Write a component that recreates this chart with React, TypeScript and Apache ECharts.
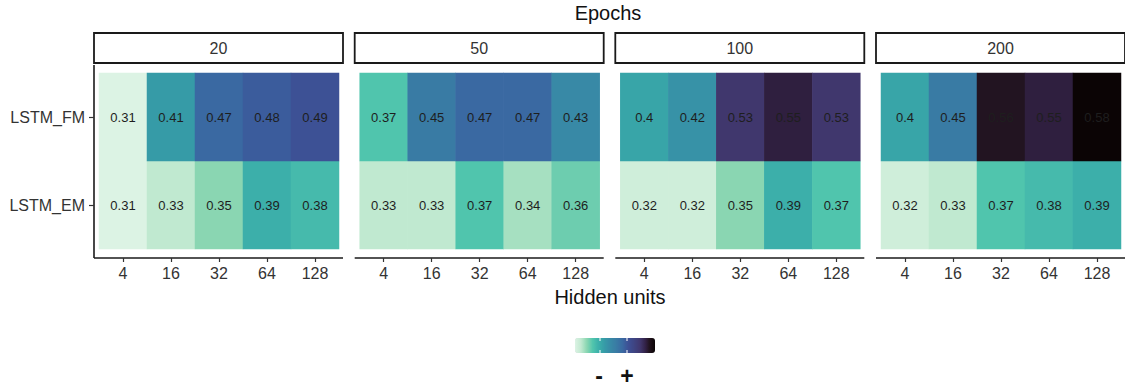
import React, { useEffect, useRef } from "react";
import * as echarts from "echarts";

const hiddenUnits = ["4", "16", "32", "64", "128"];
const epochs = ["20", "50", "100", "200"];
const models = ["LSTM_EM", "LSTM_FM"];

const fm20 = [0.31, 0.41, 0.47, 0.48, 0.49];
const em20 = [0.31, 0.33, 0.35, 0.39, 0.38];
const fm50 = [0.37, 0.45, 0.47, 0.47, 0.43];
const em50 = [0.33, 0.33, 0.37, 0.34, 0.36];
const fm100 = [0.4, 0.42, 0.53, 0.55, 0.53];
const em100 = [0.32, 0.32, 0.35, 0.39, 0.37];
const fm200 = [0.4, 0.45, 0.56, 0.55, 0.58];
const em200 = [0.32, 0.33, 0.37, 0.38, 0.39];

const fmByEpoch = [fm20, fm50, fm100, fm200];
const emByEpoch = [em20, em50, em100, em200];

const legendLabels = ["-", "+"];

const scaleMin = 0.31;
const scaleMax = 0.58;
const stopValues = [0.31, 0.33, 0.35, 0.37, 0.39, 0.41, 0.43, 0.45, 0.47, 0.49, 0.53, 0.55, 0.56, 0.58];
const stopColors = [
  "#dcf3e4", "#c2e9d1", "#8ad6b1", "#50c5ad", "#3bafaa", "#369ba7", "#3889a6", "#397ba4",
  "#3a69a2", "#3d5095", "#40376e", "#301f40", "#22141f", "#0b0405",
];

const hexToRgb = (h: string) => [1, 3, 5].map((i) => parseInt(h.slice(i, i + 2), 16));
const rgbToHex = (c: number[]) =>
  "#" + c.map((v) => Math.round(v).toString(16).padStart(2, "0")).join("");

function buildRamp(n: number): string[] {
  const out: string[] = [];
  for (let k = 0; k < n; k++) {
    const v = scaleMin + ((scaleMax - scaleMin) * k) / (n - 1);
    let j = 0;
    while (j < stopValues.length - 2 && v > stopValues[j + 1]) j++;
    const t = Math.min(1, Math.max(0, (v - stopValues[j]) / (stopValues[j + 1] - stopValues[j])));
    const a = hexToRgb(stopColors[j]);
    const b = hexToRgb(stopColors[j + 1]);
    out.push(rgbToHex(a.map((x, i) => x + (b[i] - x) * t)));
  }
  return out;
}

const FONT = "Liberation Sans, Arial, Helvetica, sans-serif";
const panelLefts = [94, 354.7, 615.3, 876];
const panelW = 249;

export default function App() {
  const ref = useRef<HTMLDivElement>(null);
  useEffect(() => {
    if (!ref.current) return;
    const chart = echarts.init(ref.current, null, { renderer: "svg" });
    const grids: any[] = [];
    const xAxes: any[] = [];
    const yAxes: any[] = [];
    const series: any[] = [];
    const graphics: any[] = [];

    epochs.forEach((ep, i) => {
      const L = panelLefts[i];
      grids.push({ left: L + 5, top: 73, width: 240, height: 176 });
      xAxes.push({
        type: "category",
        gridIndex: i,
        data: hiddenUnits,
        offset: 9,
        axisLine: { show: false },
        axisTick: { show: true, alignWithLabel: true, length: 4, lineStyle: { color: "#333", width: 1.2 } },
        axisLabel: { color: "#333", fontSize: 16, fontFamily: FONT, margin: 7 },
        splitLine: { show: false },
      });
      yAxes.push({
        type: "category",
        gridIndex: i,
        data: models,
        offset: 5,
        show: i === 0,
        axisLine: { show: false },
        axisTick: { show: true, alignWithLabel: true, length: 5, lineStyle: { color: "#333", width: 1.2 } },
        axisLabel: { color: "#333", fontSize: 16, fontFamily: FONT, margin: 9 },
        splitLine: { show: false },
      });
      const data: any[] = [];
      hiddenUnits.forEach((_, x) => {
        data.push([x, 0, emByEpoch[i][x]]);
        data.push([x, 1, fmByEpoch[i][x]]);
      });
      series.push({
        type: "heatmap",
        xAxisIndex: i,
        yAxisIndex: i,
        data,
        itemStyle: { borderWidth: 0 },
        label: {
          show: true,
          formatter: (p: any) => String(p.value[2]),
          color: "#1e1e1e",
          fontSize: 13,
          fontFamily: FONT,
        },
        emphasis: { disabled: true },
      });
      graphics.push({
        type: "rect",
        shape: { x: L, y: 33, width: panelW, height: 30 },
        style: { fill: "#fff", stroke: "#1a1a1a", lineWidth: 1.8 },
      });
      graphics.push({
        type: "text",
        x: L + panelW / 2,
        y: 48,
        style: { text: ep, fill: "#333", fontSize: 16, fontFamily: FONT, align: "center", verticalAlign: "middle" },
      });
      graphics.push({
        type: "line",
        shape: { x1: L, y1: 258, x2: L + panelW, y2: 258 },
        style: { stroke: "#1a1a1a", lineWidth: 1.6 },
      });
    });
    graphics.push({
      type: "line",
      shape: { x1: 94, y1: 65, x2: 94, y2: 258 },
      style: { stroke: "#1a1a1a", lineWidth: 1.6 },
    });
    graphics.push({
      type: "text",
      x: 608,
      y: 13,
      style: { text: "Epochs", fill: "#111", fontSize: 20, fontFamily: FONT, align: "center", verticalAlign: "middle" },
    });
    graphics.push({
      type: "text",
      x: 610,
      y: 297,
      style: { text: "Hidden units", fill: "#111", fontSize: 20, fontFamily: FONT, align: "center", verticalAlign: "middle" },
    });
    [599, 627].forEach((x, k) => {
      graphics.push({
        type: "text",
        x,
        y: 376,
        style: {
          text: legendLabels[k],
          fill: "#111",
          fontSize: 23,
          fontWeight: "bold",
          fontFamily: FONT,
          align: "center",
          verticalAlign: "middle",
        },
      });
    });
    [600, 627].forEach((x) => {
      graphics.push({ type: "line", shape: { x1: x, y1: 338, x2: x, y2: 341 }, style: { stroke: "#fff", lineWidth: 1 }, z: 100 });
      graphics.push({ type: "line", shape: { x1: x, y1: 350, x2: x, y2: 353 }, style: { stroke: "#fff", lineWidth: 1 }, z: 100 });
    });

    chart.setOption({
      animation: false,
      backgroundColor: "#fff",
      grid: grids,
      xAxis: xAxes,
      yAxis: yAxes,
      series,
      visualMap: {
        type: "continuous",
        min: scaleMin,
        max: scaleMax,
        dimension: 2,
        seriesIndex: [0, 1, 2, 3],
        orient: "horizontal",
        left: 575,
        top: 338,
        itemWidth: 15,
        itemHeight: 80,
        padding: 0,
        calculable: false,
        hoverLink: false,
        inRange: { color: buildRamp(60) },
      },
      graphic: graphics,
    });
    return () => chart.dispose();
  }, []);
  return (
    <div
      ref={ref}
      style={{ position: "absolute", left: 0, top: 0, width: 1125, height: 391 }}
    />
  );
}
